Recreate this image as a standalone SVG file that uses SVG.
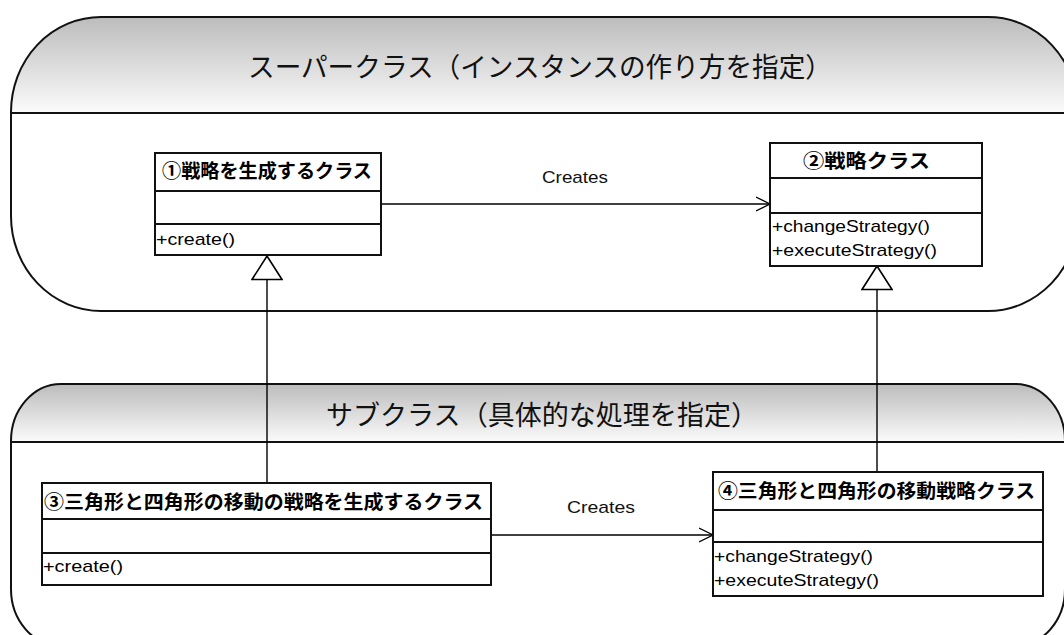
<svg xmlns="http://www.w3.org/2000/svg" width="1064" height="635" viewBox="0 0 1064 635">
  <style>
    .cont { fill: none; stroke: #111; stroke-width: 2; }
    .div { stroke: #111; stroke-width: 2; }
    .title { font-family: "Noto Sans CJK JP", "Liberation Sans", sans-serif; font-size: 27px; fill: #111; }
    .box { fill: #fff; stroke: #111; stroke-width: 2; }
    .sep { stroke: #111; stroke-width: 2; }
    .hdr { font-family: "Noto Sans CJK JP", "Liberation Sans", sans-serif; font-size: 19px; font-weight: bold; fill: #000; }
    .op { font-family: "Liberation Sans", "Noto Sans CJK JP", sans-serif; font-size: 17px; fill: #000; }
    .lbl { font-family: "Liberation Sans", "Noto Sans CJK JP", sans-serif; font-size: 17px; fill: #111; }
    .gen { fill: none; stroke: #000; stroke-width: 1.4; marker-end: url(#tri); }
    .dep { fill: none; stroke: #000; stroke-width: 1.4; marker-end: url(#open); }
  </style>
  <defs>
    <linearGradient id="hg" x1="0" y1="0" x2="0" y2="1">
      <stop offset="0" stop-color="#bcbcbc"/>
      <stop offset="1" stop-color="#fbfbfb"/>
    </linearGradient>
    <clipPath id="clipTop">
      <rect x="11" y="17" width="1067" height="294" rx="90" ry="95"/>
    </clipPath>
    <clipPath id="clipBot">
      <rect x="11" y="384" width="1054" height="262" rx="50" ry="57"/>
    </clipPath>
    <marker id="open" markerUnits="userSpaceOnUse" viewBox="0 0 14 16" refX="14" refY="8" markerWidth="14" markerHeight="16" orient="auto">
      <path d="M0,1 L14,8 L0,15" fill="none" stroke="#000" stroke-width="1.3"/>
    </marker>
    <marker id="tri" markerUnits="userSpaceOnUse" viewBox="-1 -1 26 32" refX="23.5" refY="15" markerWidth="26" markerHeight="32" orient="auto">
      <path d="M0,0 L23.5,15 L0,30 Z" fill="#fff" stroke="#000" stroke-width="1.6"/>
    </marker>
  </defs>

  <g id="super-container">
    <rect x="11" y="17" width="1067" height="294" rx="90" ry="95" fill="#fff"/>
    <rect x="0" y="17" width="1080" height="96" fill="url(#hg)" clip-path="url(#clipTop)"/>
    <line class="div" x1="11" y1="113" x2="1064" y2="113"/>
    <rect class="cont" x="11" y="17" width="1067" height="294" rx="90" ry="95"/>
    <text class="title" x="248" y="77" textLength="584" lengthAdjust="spacingAndGlyphs">スーパークラス（インスタンスの作り方を指定）</text>
  </g>

  <g id="sub-container">
    <rect x="11" y="384" width="1054" height="262" rx="50" ry="57" fill="#fff"/>
    <rect x="0" y="384" width="1080" height="58" fill="url(#hg)" clip-path="url(#clipBot)"/>
    <line class="div" x1="11" y1="442" x2="1064" y2="442"/>
    <rect class="cont" x="11" y="384" width="1054" height="262" rx="50" ry="57"/>
    <text class="title" x="326" y="425" textLength="432" lengthAdjust="spacingAndGlyphs">サブクラス（具体的な処理を指定）</text>
  </g>

  <g id="connectors">
    <line class="dep" x1="381" y1="204" x2="770" y2="204"/>
    <text class="lbl" x="542" y="183" textLength="66" lengthAdjust="spacingAndGlyphs">Creates</text>
    <line class="dep" x1="491" y1="535" x2="713" y2="535"/>
    <text class="lbl" x="567" y="513" textLength="68" lengthAdjust="spacingAndGlyphs">Creates</text>
    <line class="gen" x1="267" y1="483" x2="267" y2="256"/>
    <line class="gen" x1="877" y1="472" x2="877" y2="266"/>
  </g>

  <g id="class1">
    <rect class="box" x="155" y="153" width="226" height="102"/>
    <line class="sep" x1="155" y1="191" x2="381" y2="191"/>
    <line class="sep" x1="155" y1="224" x2="381" y2="224"/>
    <text class="hdr" x="162" y="178" textLength="210" lengthAdjust="spacingAndGlyphs">①戦略を生成するクラス</text>
    <text class="op" x="156" y="245" textLength="79" lengthAdjust="spacingAndGlyphs">+create()</text>
  </g>

  <g id="class2">
    <rect class="box" x="770" y="143" width="212" height="123"/>
    <line class="sep" x1="770" y1="178" x2="982" y2="178"/>
    <line class="sep" x1="770" y1="213" x2="982" y2="213"/>
    <text class="hdr" x="803" y="168" textLength="127" lengthAdjust="spacingAndGlyphs">②戦略クラス</text>
    <text class="op" x="772" y="232" textLength="158" lengthAdjust="spacingAndGlyphs">+changeStrategy()</text>
    <text class="op" x="772" y="256" textLength="165" lengthAdjust="spacingAndGlyphs">+executeStrategy()</text>
  </g>

  <g id="class3">
    <rect class="box" x="42" y="483" width="449" height="102"/>
    <line class="sep" x1="42" y1="519" x2="491" y2="519"/>
    <line class="sep" x1="42" y1="553" x2="491" y2="553"/>
    <text class="hdr" x="44" y="509" textLength="439" lengthAdjust="spacingAndGlyphs">③三角形と四角形の移動の戦略を生成するクラス</text>
    <text class="op" x="43" y="572" textLength="80" lengthAdjust="spacingAndGlyphs">+create()</text>
  </g>

  <g id="class4">
    <rect class="box" x="713" y="472" width="330" height="124"/>
    <line class="sep" x1="713" y1="510" x2="1043" y2="510"/>
    <line class="sep" x1="713" y1="542" x2="1043" y2="542"/>
    <text class="hdr" x="718" y="498" textLength="317" lengthAdjust="spacingAndGlyphs">④三角形と四角形の移動戦略クラス</text>
    <text class="op" x="714" y="562" textLength="159" lengthAdjust="spacingAndGlyphs">+changeStrategy()</text>
    <text class="op" x="714" y="586" textLength="165" lengthAdjust="spacingAndGlyphs">+executeStrategy()</text>
  </g>
</svg>
